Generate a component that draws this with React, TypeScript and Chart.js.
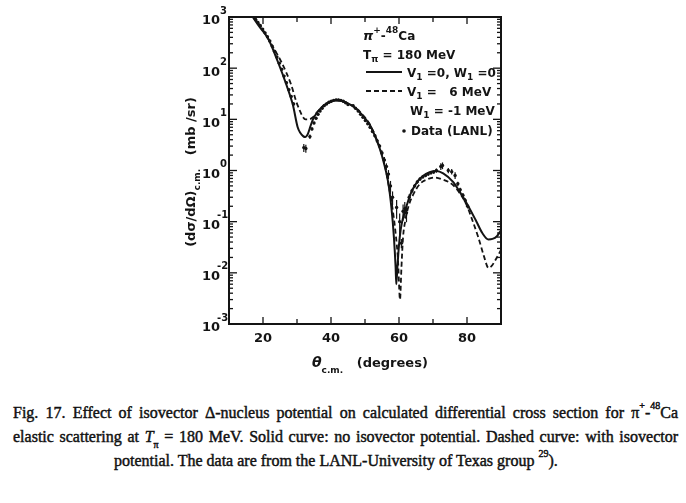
import React, { useEffect, useRef } from 'react';
import { Chart, registerables } from 'chart.js';

Chart.register(...registerables);

// ---- data ----
const solidTheta = [17.0, 19.0, 21.5, 24.4, 26.9, 28.8, 30.2, 31.0, 31.8, 32.4, 33.2, 34.0, 34.7, 35.7, 37, 38.5, 40, 41.6, 43, 45, 47.5, 49.5, 51.4, 53, 54.4, 55.5, 56.8, 57.8, 58.5, 59.0, 59.2, 59.5, 60.0, 60.5, 61.2, 62.2, 63.5, 65.2, 67, 69, 71, 73, 75.9, 78, 79.9, 82.8, 84.5, 86.3, 87.5, 88.8, 90];
const solidValue = [1000, 640, 380, 132, 47, 19, 7.0, 5.4, 4.7, 4.5, 5.2, 7.5, 10, 13, 16.5, 20, 22.5, 23.5, 23, 20.5, 16, 11.5, 7.8, 4.6, 2.6, 1.45, 0.6, 0.18, 0.05, 0.013, 0.006, 0.012, 0.035, 0.07, 0.12, 0.2, 0.36, 0.58, 0.78, 0.93, 0.98, 0.88, 0.6, 0.37, 0.23, 0.1, 0.06, 0.045, 0.046, 0.052, 0.068];

const dashedTheta = [17.4, 20, 22.5, 25.4, 28.3, 29.8, 30.8, 31.6, 32.5, 33.5, 34.7, 35.8, 37, 38.5, 40, 41.6, 43, 45, 47.5, 49.5, 51.4, 53, 54.4, 55.8, 57, 58, 59, 59.7, 60.3, 60.7, 61.2, 61.8, 62.8, 64.2, 66.2, 68.5, 70.5, 72.5, 75.9, 78, 79.9, 81.5, 83.3, 85, 86.3, 87.2, 88.2, 90];
const dashedValue = [1000, 560, 290, 132, 47, 22, 15, 11.5, 10, 10, 11, 13.5, 16.5, 20, 22.5, 23.5, 23, 20.5, 16.3, 11.8, 8.0, 4.8, 2.7, 1.3, 0.5, 0.2, 0.06, 0.018, 0.003, 0.012, 0.05, 0.1, 0.2, 0.34, 0.55, 0.68, 0.73, 0.68, 0.52, 0.35, 0.21, 0.11, 0.05, 0.021, 0.0125, 0.0135, 0.017, 0.028];

const dataTheta = [17.8, 18.5, 19.2, 19.9, 20.6, 21.3, 22.0, 22.7, 23.4, 24.1, 24.8, 25.5, 26.2, 26.9, 27.6, 28.3, 29.0, 32.0, 32.6, 33.8, 34.4, 35.0, 35.6, 36.2, 36.8, 37.4, 38.0, 38.7, 39.4, 40.1, 40.8, 41.5, 42.2, 42.9, 43.6, 44.3, 45.0, 46.5, 47.2, 48.0, 48.7, 49.4, 50.1, 50.8, 51.5, 52.2, 52.9, 53.6, 54.3, 55.0, 55.7, 56.3, 56.9, 57.5, 58.1, 59.3, 60.2, 60.7, 61.2, 61.7, 62.2, 63.0, 63.8, 64.6, 65.4, 66.2, 67.0, 67.8, 68.6, 69.4, 70.2, 71.0, 72.3, 72.8, 74.5, 75.5, 76.5, 77.3, 78.0, 78.8, 79.5, 80.2];
const dataValue = [900, 780, 680, 580, 490, 410, 340, 270, 215, 165, 125, 95, 70, 52, 38, 28, 20, 2.8, 2.7, 4.6, 6.5, 8.5, 10.5, 12.5, 14.5, 16.5, 18.5, 20, 21.5, 22.5, 23.5, 24, 24, 23.5, 22.5, 21, 19.5, 18.5, 16.5, 14.5, 12.5, 11, 9.5, 8.2, 7, 5.8, 4.8, 3.8, 3, 2.2, 1.6, 1.2, 0.85, 0.5, 0.3, 0.19, 0.1, 0.038, 0.16, 0.18, 0.15, 0.3, 0.4, 0.5, 0.6, 0.68, 0.75, 0.8, 0.85, 0.9, 0.93, 1.0, 1.2, 1.25, 1.0, 0.95, 0.8, 0.55, 0.42, 0.33, 0.26, 0.2];
const dataErr = [0.05, 0.05, 0.05, 0.05, 0.05, 0.05, 0.05, 0.05, 0.05, 0.05, 0.05, 0.05, 0.06, 0.06, 0.06, 0.07, 0.08, 0.18, 0.18, 0.1, 0.08, 0.06, 0.05, 0.05, 0.05, 0.05, 0.05, 0.05, 0.05, 0.05, 0.05, 0.05, 0.05, 0.05, 0.05, 0.05, 0.05, 0.05, 0.05, 0.05, 0.05, 0.05, 0.06, 0.06, 0.06, 0.07, 0.07, 0.08, 0.1, 0.12, 0.15, 0.15, 0.2, 0.25, 0.3, 0.4, 0.45, 0.2, 0.35, 0.35, 0.35, 0.15, 0.1, 0.08, 0.08, 0.07, 0.07, 0.07, 0.07, 0.07, 0.07, 0.1, 0.15, 0.15, 0.12, 0.12, 0.15, 0.1, 0.1, 0.1, 0.1, 0.1];

const xMajorTicks = [20, 40, 60, 80];
const xMinorTicks = [30, 50, 70];
const yExponents = [3, 2, 1, 0, -1, -2, -3];

const X_MIN = 10;
const X_MAX = 90;
const Y_MIN = 1e-3;
const Y_MAX = 1e3;

const INK = '#141414';
const FONT = '"DejaVu Sans", sans-serif';

type Part = { t: string; font: string; dy?: number };

function drawParts(ctx: CanvasRenderingContext2D, x: number, y: number, parts: Part[]) {
  let cx = x;
  for (const p of parts) {
    ctx.font = p.font;
    ctx.fillText(p.t, cx, y + (p.dy || 0));
    cx += ctx.measureText(p.t).width;
  }
  return cx;
}
function partsWidth(ctx: CanvasRenderingContext2D, parts: Part[]) {
  let w = 0;
  for (const p of parts) {
    ctx.font = p.font;
    w += ctx.measureText(p.t).width;
  }
  return w;
}

const errorBarPlugin = {
  id: 'errorBars',
  afterDatasetsDraw(chart: any) {
    const { ctx, scales } = chart;
    const ys = scales.y;
    const xs = scales.x;
    const a = chart.chartArea;
    ctx.save();
    ctx.beginPath();
    ctx.rect(a.left, a.top, a.right - a.left, a.bottom - a.top);
    ctx.clip();
    ctx.strokeStyle = INK;
    ctx.lineWidth = 1.2;
    for (let i = 0; i < dataTheta.length; i++) {
      const v = dataValue[i];
      const e = dataErr[i];
      const px = xs.getPixelForValue(dataTheta[i]);
      const y1 = ys.getPixelForValue(v * (1 + e));
      const y2 = ys.getPixelForValue(v * (1 - e));
      ctx.beginPath();
      ctx.moveTo(px, y1);
      ctx.lineTo(px, y2);
      ctx.stroke();
    }
    ctx.restore();
  },
};

const decorPlugin = {
  id: 'decor',
  afterDraw(chart: any) {
    const { ctx, chartArea: a, scales } = chart;
    const xs = scales.x;
    const ys = scales.y;
    ctx.save();
    ctx.strokeStyle = INK;
    ctx.fillStyle = INK;
    const seg = (x1: number, y1: number, x2: number, y2: number) => {
      ctx.beginPath();
      ctx.moveTo(x1, y1);
      ctx.lineTo(x2, y2);
      ctx.stroke();
    };
    // frame
    ctx.lineWidth = 2;
    ctx.strokeRect(a.left, a.top, a.right - a.left, a.bottom - a.top);

    // y ticks (inward, both sides)
    ctx.lineWidth = 1.3;
    for (let k = -3; k <= 3; k++) {
      for (let m = 1; m <= 9; m++) {
        if (k === 3 && m > 1) break;
        const py = ys.getPixelForValue(m * Math.pow(10, k));
        const len = m === 1 ? 8 : 4;
        seg(a.left, py, a.left + len, py);
        seg(a.right, py, a.right - len, py);
      }
    }
    // x ticks (inward, top and bottom)
    for (const t of [...xMajorTicks, ...xMinorTicks]) {
      const px = xs.getPixelForValue(t);
      const len = xMajorTicks.includes(t) ? 7 : 5;
      seg(px, a.bottom, px, a.bottom - len);
      seg(px, a.top, px, a.top + len);
    }

    // y tick labels 10^k
    ctx.textBaseline = 'middle';
    for (const k of yExponents) {
      const py = ys.getPixelForValue(Math.pow(10, k));
      ctx.font = `bold 13px ${FONT}`;
      ctx.textAlign = 'right';
      ctx.fillText('10', a.left - 9, py + 4);
      ctx.textAlign = 'left';
      ctx.font = `bold 10px ${FONT}`;
      ctx.fillText(String(k), k < 0 ? a.left - 12 : a.left - 9, py - 6);
    }
    // x tick labels
    ctx.textAlign = 'center';
    ctx.font = `bold 13px ${FONT}`;
    for (const t of xMajorTicks) {
      ctx.fillText(String(t), xs.getPixelForValue(t), a.bottom + 15);
    }

    // x title
    ctx.textAlign = 'left';
    ctx.textBaseline = 'alphabetic';
    drawParts(ctx, 312, 367, [
      { t: 'θ', font: `italic bold 14px ${FONT}` },
      { t: 'c.m.', font: `bold 9px ${FONT}`, dy: 6 },
      { t: '   (degrees)', font: `bold 13px ${FONT}` },
    ]);

    // y title (rotated)
    ctx.save();
    ctx.translate(195, 172);
    ctx.rotate(-Math.PI / 2);
    const yParts: Part[] = [
      { t: '(dσ/dΩ)', font: `bold 13px ${FONT}` },
      { t: 'c.m.', font: `bold 9px ${FONT}`, dy: 5 },
      { t: '   (mb /sr)', font: `bold 13px ${FONT}` },
    ];
    const w = partsWidth(ctx, yParts);
    drawParts(ctx, -w / 2, 0, yParts);
    ctx.restore();

    // in-plot legend
    const big = `bold 12px ${FONT}`;
    const small = `bold 9px ${FONT}`;
    drawParts(ctx, 363, 40, [
      { t: 'π', font: `italic bold 13px ${FONT}` },
      { t: '+', font: small, dy: -7 },
      { t: '-', font: big },
      { t: '48', font: small, dy: -7 },
      { t: 'Ca', font: big },
    ]);
    drawParts(ctx, 363, 59, [
      { t: 'T', font: big },
      { t: 'π', font: small, dy: 3 },
      { t: ' = 180 MeV', font: big },
    ]);
    ctx.lineWidth = 2;
    seg(366, 72, 402, 72);
    drawParts(ctx, 407, 77, [
      { t: 'V', font: big },
      { t: '1', font: small, dy: 3 },
      { t: ' =0, W', font: big },
      { t: '1', font: small, dy: 3 },
      { t: ' =0', font: big },
    ]);
    ctx.setLineDash([5, 3]);
    ctx.lineWidth = 1.8;
    seg(366, 91, 402, 91);
    ctx.setLineDash([]);
    drawParts(ctx, 407, 96, [
      { t: 'V', font: big },
      { t: '1', font: small, dy: 3 },
      { t: ' =   6 MeV', font: big },
    ]);
    drawParts(ctx, 410, 115, [
      { t: 'W', font: big },
      { t: '1', font: small, dy: 3 },
      { t: ' = -1 MeV', font: big },
    ]);
    ctx.beginPath();
    ctx.arc(404, 131, 1.8, 0, Math.PI * 2);
    ctx.fill();
    drawParts(ctx, 411, 135, [{ t: 'Data (LANL)', font: big }]);

    ctx.restore();
  },
};

function CrossSectionChart() {
  const ref = useRef<HTMLCanvasElement | null>(null);
  useEffect(() => {
    if (!ref.current) return;
    const chart = new Chart(ref.current, {
      type: 'line',
      data: {
        datasets: [
          {
            label: 'V1 = 0, W1 = 0',
            data: solidTheta.map((x, i) => ({ x, y: solidValue[i] })),
            borderColor: INK,
            borderWidth: 2,
            pointRadius: 0,
            fill: false,
            cubicInterpolationMode: 'monotone',
          },
          {
            label: 'V1 = 6 MeV, W1 = -1 MeV',
            data: dashedTheta.map((x, i) => ({ x, y: dashedValue[i] })),
            borderColor: INK,
            borderWidth: 1.8,
            borderDash: [5, 3],
            pointRadius: 0,
            fill: false,
            cubicInterpolationMode: 'monotone',
          },
          {
            type: 'scatter',
            label: 'Data (LANL)',
            data: dataTheta.map((x, i) => ({ x, y: dataValue[i] })),
            showLine: false,
            pointRadius: 1.7,
            pointBorderWidth: 0,
            pointBackgroundColor: INK,
            borderColor: INK,
          } as any,
        ],
      },
      options: {
        animation: false,
        responsive: false,
        maintainAspectRatio: false,
        layout: { padding: { left: 229, right: 185, top: 17, bottom: 66 } },
        plugins: { legend: { display: false }, tooltip: { enabled: false } },
        scales: {
          x: { type: 'linear', min: X_MIN, max: X_MAX, display: false },
          y: { type: 'logarithmic', min: Y_MIN, max: Y_MAX, display: false },
        },
      },
      plugins: [errorBarPlugin, decorPlugin],
    } as any);
    return () => chart.destroy();
  }, []);
  return <canvas ref={ref} width={686} height={390} style={{ position: 'absolute', left: 0, top: 0, width: 686, height: 390 }} />;
}

const captionStyle: React.CSSProperties = {
  position: 'absolute',
  left: 13,
  width: 665,
  fontFamily: '"Liberation Serif", "Times New Roman", serif',
  fontSize: 16,
  lineHeight: '20px',
  color: '#111',
  whiteSpace: 'nowrap',
  WebkitTextStroke: '0.45px #111',
};
const supStyle: React.CSSProperties = { fontSize: 10, verticalAlign: 'top', lineHeight: '10px', position: 'relative', top: -2 };
const subStyle: React.CSSProperties = { fontSize: 10, verticalAlign: 'bottom', lineHeight: '10px', position: 'relative', top: 3 };

export default function App() {
  return (
    <div style={{ position: 'absolute', left: 0, top: 0, width: 686, height: 503, overflow: 'hidden', background: '#fff' }}>
      <CrossSectionChart />
      <div style={{ ...captionStyle, top: 403, textAlign: 'justify', textAlignLast: 'justify' }}>
        Fig. 17. Effect of isovector Δ-nucleus potential on calculated differential cross section for π<span style={supStyle}>+</span>-<span style={supStyle}>48</span>Ca
      </div>
      <div style={{ ...captionStyle, top: 427, textAlign: 'justify', textAlignLast: 'justify' }}>
        elastic scattering at <i>T</i><span style={subStyle}>π</span> = 180 MeV. Solid curve: no isovector potential. Dashed curve: with isovector
      </div>
      <div style={{ ...captionStyle, top: 451, left: 114, width: 'auto' }}>
        potential. The data are from the LANL-University of Texas group <span style={supStyle}>29</span>).
      </div>
    </div>
  );
}
